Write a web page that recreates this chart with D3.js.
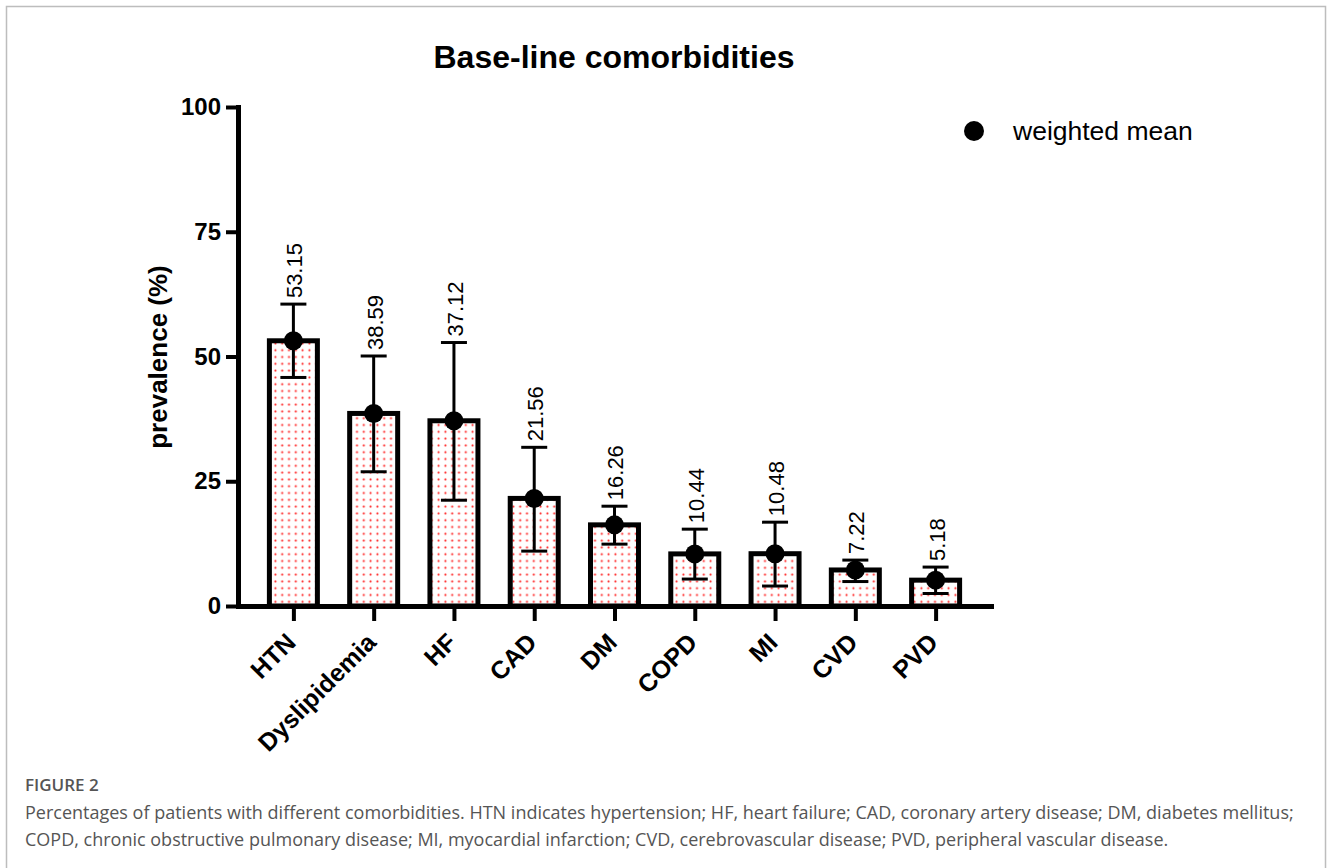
<!DOCTYPE html>
<html lang="en">
<head>
<meta charset="utf-8">
<title>Base-line comorbidities</title>
<script src="https://cdn.jsdelivr.net/npm/d3@7"></script>
<style>
  body { margin: 0; background: #fff; }
  svg text { font-family: "Liberation Sans", Arial, sans-serif; }
  .caption { font-family: "Open Sans", "Lato", sans-serif; fill: #555; }
</style>
</head>
<body>
<svg id="chart" width="1330" height="868"></svg>
<script>
    // data
    const categories = ["HTN", "Dyslipidemia", "HF", "CAD", "DM", "COPD", "MI", "CVD", "PVD"];
    const means = [53.15, 38.59, 37.12, 21.56, 16.26, 10.44, 10.48, 7.22, 5.18];
    const upper = [60.5, 50.1, 52.8, 31.8, 20.0, 15.4, 16.8, 9.2, 7.8];
    const lower = [45.8, 26.9, 21.2, 11.0, 12.4, 5.4, 4.0, 4.9, 2.5];
    const meanLabels = ["53.15", "38.59", "37.12", "21.56", "16.26", "10.44", "10.48", "7.22", "5.18"];
    const yTicks = [0, 25, 50, 75, 100];

    const svg = d3.select("#chart");

    // outer frame
    svg.append("rect")
        .attr("x", 6.5).attr("y", 6.5)
        .attr("width", 1319).attr("height", 880)
        .attr("fill", "none")
        .attr("stroke", "#bdbdbd")
        .attr("stroke-width", 1.5);

    // dotted fill for bars
    const pat = svg.append("defs").append("pattern")
        .attr("id", "dots")
        .attr("patternUnits", "userSpaceOnUse")
        .attr("width", 6.8).attr("height", 6.8);
    pat.append("rect").attr("width", 6.8).attr("height", 6.8).attr("fill", "#fff");
    pat.append("circle").attr("cx", 3.4).attr("cy", 3.4).attr("r", 1.5).attr("fill", "#ffd6d6");
    pat.append("circle").attr("cx", 3.4).attr("cy", 3.4).attr("r", 0.9).attr("fill", "#ff2424");

    const x = d3.scalePoint().domain(categories).range([238, 991]).padding(0.69);
    const y = d3.scaleLinear().domain([0, 100]).range([606, 107]);
    const barW = 48;

    // title
    svg.append("text")
        .attr("x", 614).attr("y", 68)
        .attr("text-anchor", "middle")
        .style("font-size", "32px")
        .style("font-weight", "bold")
        .text("Base-line comorbidities");

    // y axis title
    svg.append("text")
        .attr("transform", "translate(167,357) rotate(-90)")
        .attr("text-anchor", "middle")
        .style("font-size", "26px")
        .style("font-weight", "bold")
        .text("prevalence (%)");

    // bars
    svg.append("g").selectAll("rect")
        .data(means)
        .enter().append("rect")
        .attr("x", (d, i) => x(categories[i]) - barW / 2)
        .attr("y", d => y(d))
        .attr("width", barW)
        .attr("height", d => y(0) - y(d))
        .attr("fill", "url(#dots)")
        .attr("stroke", "#000")
        .attr("stroke-width", 5);

    // error bars
    const err = svg.append("g").attr("stroke", "#000").attr("stroke-width", 3);
    err.selectAll(".stem")
        .data(means)
        .enter().append("line")
        .attr("x1", (d, i) => x(categories[i]))
        .attr("x2", (d, i) => x(categories[i]))
        .attr("y1", (d, i) => y(upper[i]))
        .attr("y2", (d, i) => y(lower[i]));
    err.selectAll(".capUp")
        .data(upper)
        .enter().append("line")
        .attr("x1", (d, i) => x(categories[i]) - 13)
        .attr("x2", (d, i) => x(categories[i]) + 13)
        .attr("y1", d => y(d))
        .attr("y2", d => y(d));
    err.selectAll(".capLo")
        .data(lower)
        .enter().append("line")
        .attr("x1", (d, i) => x(categories[i]) - 13)
        .attr("x2", (d, i) => x(categories[i]) + 13)
        .attr("y1", d => y(d))
        .attr("y2", d => y(d));

    // mean dots
    svg.append("g").selectAll("circle")
        .data(means)
        .enter().append("circle")
        .attr("cx", (d, i) => x(categories[i]))
        .attr("cy", d => y(d))
        .attr("r", 9.5)
        .attr("fill", "#000");

    // value labels
    svg.append("g").selectAll("text")
        .data(meanLabels)
        .enter().append("text")
        .attr("transform", (d, i) => "translate(" + (x(categories[i]) + 1) + "," + (y(upper[i]) - 6) + ") rotate(-90)")
        .attr("dy", "0.36em")
        .style("font-size", "22px")
        .text(d => d);

    // y axis
    const yAxis = svg.append("g")
        .attr("transform", "translate(238,0)")
        .call(d3.axisLeft(y).tickValues(yTicks).tickSize(12).tickSizeOuter(0).tickPadding(5));
    yAxis.select(".domain").attr("stroke-width", 5).attr("stroke-linecap", "square");
    yAxis.selectAll(".tick line").attr("stroke-width", 4);
    yAxis.selectAll(".tick text")
        .style("font-family", "'Liberation Sans', Arial, sans-serif")
        .style("font-size", "24px")
        .style("font-weight", "bold")
        .attr("fill", "#000");

    // x axis
    const xAxis = svg.append("g")
        .attr("transform", "translate(0,606)")
        .call(d3.axisBottom(x).tickSize(15).tickSizeOuter(0).tickFormat(""));
    xAxis.select(".domain").attr("stroke-width", 5).attr("stroke-linecap", "square");
    xAxis.selectAll(".tick line").attr("stroke-width", 4);

    svg.append("g").selectAll("text")
        .data(categories)
        .enter().append("text")
        .attr("transform", d => "translate(" + (x(d) + 4) + ",644) rotate(-45)")
        .attr("text-anchor", "end")
        .style("font-size", "25px")
        .style("font-weight", "bold")
        .text(d => d);

    // legend
    svg.append("circle").attr("cx", 974).attr("cy", 131).attr("r", 10).attr("fill", "#000");
    svg.append("text")
        .attr("x", 1013).attr("y", 131)
        .attr("dy", "0.35em")
        .style("font-size", "26.5px")
        .text("weighted mean");

    // caption
    svg.append("text").attr("class", "caption")
        .attr("x", 25).attr("y", 791)
        .style("font-size", "17px")
        .style("font-weight", "600")
        .attr("fill", "#666")
        .text("FIGURE 2");
    svg.append("text").attr("class", "caption")
        .attr("x", 25).attr("y", 819)
        .style("font-size", "18px")
        .text("Percentages of patients with different comorbidities. HTN indicates hypertension; HF, heart failure; CAD, coronary artery disease; DM, diabetes mellitus;");
    svg.append("text").attr("class", "caption")
        .attr("x", 25).attr("y", 846)
        .style("font-size", "18px")
        .text("COPD, chronic obstructive pulmonary disease; MI, myocardial infarction; CVD, cerebrovascular disease; PVD, peripheral vascular disease.");
</script>
</body>
</html>
